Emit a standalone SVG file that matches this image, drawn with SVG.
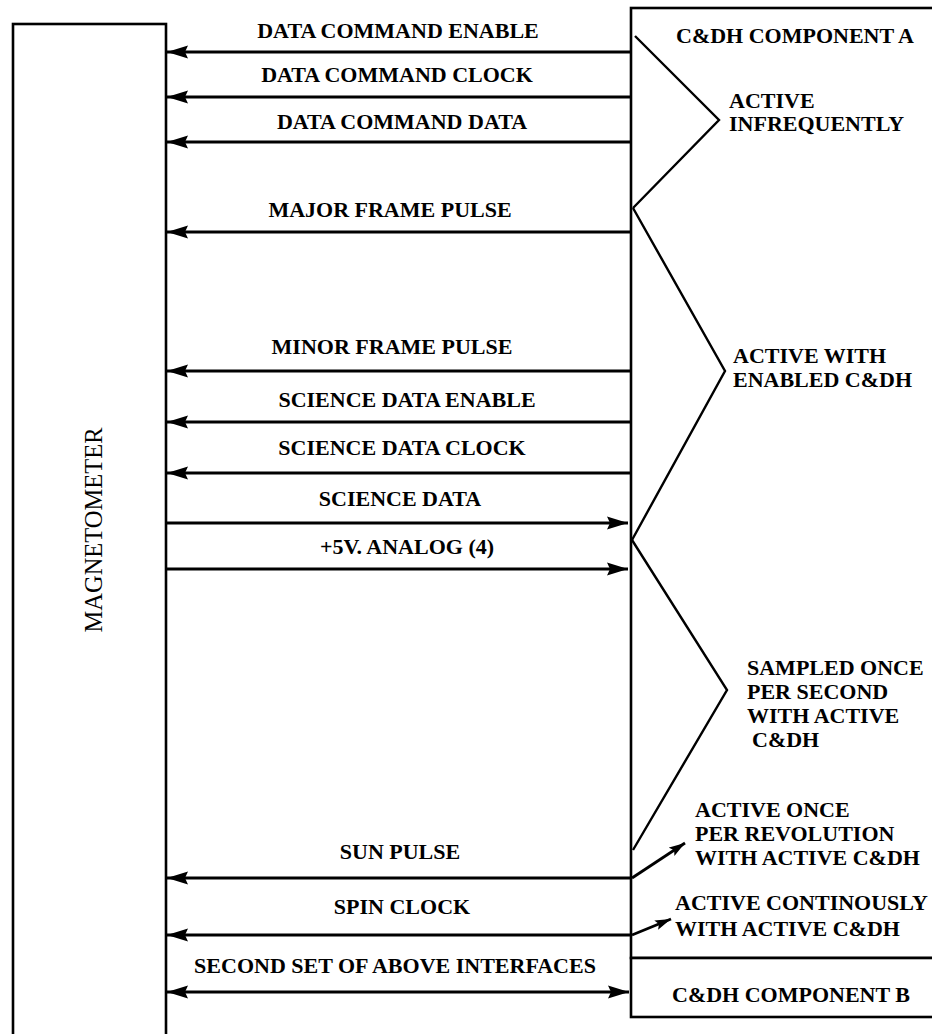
<svg xmlns="http://www.w3.org/2000/svg" width="932" height="1034" viewBox="0 0 932 1034">
<style>
.box{fill:#fff;stroke:#000;stroke-width:2.6}
.ln{fill:none;stroke:#000;stroke-width:2.8}
.br{fill:none;stroke:#000;stroke-width:2.4;stroke-linejoin:miter}
.t{font-family:"Liberation Serif","Times New Roman",serif;font-weight:bold;font-size:22px;fill:#000}
.c{text-anchor:middle}
.m{font-family:"Liberation Serif","Times New Roman",serif;font-size:24.5px;fill:#000;text-anchor:middle}
</style>
<defs>
<marker id="ah" markerUnits="userSpaceOnUse" markerWidth="23" markerHeight="15" refX="21" refY="6.5" orient="auto-start-reverse" viewBox="0 0 23 13">
<path d="M0,0 L21,6.5 L0,13 L3,6.5 z" fill="#000"/>
</marker>
<marker id="sh" markerUnits="userSpaceOnUse" markerWidth="18" markerHeight="12" refX="16" refY="5" orient="auto" viewBox="0 0 18 10">
<path d="M0,0 L16,5 L0,10 L3,5 z" fill="#000"/>
</marker>
</defs>
<rect width="932" height="1034" fill="#fff"/>

<g id="magnetometer">
<rect class="box" x="13" y="24" width="153" height="1030"/>
<text class="m" transform="translate(102,530) rotate(-90)">MAGNETOMETER</text>
</g>

<g id="cdh-a">
<rect class="box" x="631" y="8" width="320" height="950"/>
<text class="t" x="676" y="43">C&amp;DH COMPONENT A</text>
</g>

<g id="cdh-b">
<rect class="box" x="631" y="958" width="320" height="59"/>
<text class="t" x="672" y="1002">C&amp;DH COMPONENT B</text>
</g>

<g id="connectors">
<path class="ln" d="M631,52 H167" marker-end="url(#ah)"/>
<path class="ln" d="M631,97 H167" marker-end="url(#ah)"/>
<path class="ln" d="M631,142 H167" marker-end="url(#ah)"/>
<path class="ln" d="M631,232 H167" marker-end="url(#ah)"/>
<path class="ln" d="M631,371 H167" marker-end="url(#ah)"/>
<path class="ln" d="M631,422 H167" marker-end="url(#ah)"/>
<path class="ln" d="M631,473 H167" marker-end="url(#ah)"/>
<path class="ln" d="M166,523 H628" marker-end="url(#ah)"/>
<path class="ln" d="M166,569 H628" marker-end="url(#ah)"/>
<path class="ln" d="M632,878 H167" marker-end="url(#ah)"/>
<path class="ln" d="M632,935 H167" marker-end="url(#ah)"/>
<path class="ln" d="M167,992 H629" marker-start="url(#ah)" marker-end="url(#ah)"/>
<path class="ln" d="M632,878 L685,843" stroke-width="2.5" marker-end="url(#sh)"/>
<path class="ln" d="M632,935 L671,919" stroke-width="2.5" marker-end="url(#sh)"/>
</g>

<g id="labels">
<text class="t c" x="398" y="38">DATA COMMAND ENABLE</text>
<text class="t c" x="397" y="82">DATA COMMAND CLOCK</text>
<text class="t c" x="402" y="129">DATA COMMAND DATA</text>
<text class="t c" x="390" y="217">MAJOR FRAME PULSE</text>
<text class="t c" x="392" y="354">MINOR FRAME PULSE</text>
<text class="t c" x="407" y="407">SCIENCE DATA ENABLE</text>
<text class="t c" x="402" y="455">SCIENCE DATA CLOCK</text>
<text class="t c" x="400" y="506">SCIENCE DATA</text>
<text class="t c" x="407" y="554">+5V. ANALOG (4)</text>
<text class="t c" x="400" y="859">SUN PULSE</text>
<text class="t c" x="402" y="914">SPIN CLOCK</text>
<text class="t c" x="395" y="973">SECOND SET OF ABOVE INTERFACES</text>
</g>

<g id="bracket-infrequent">
<polyline class="br" points="635,36 719,120 633,208"/>
<text class="t" x="729" y="108">ACTIVE</text>
<text class="t" x="729" y="131">INFREQUENTLY</text>
</g>

<g id="bracket-enabled">
<polyline class="br" points="633,208 725,371 632,540"/>
<text class="t" x="733" y="363">ACTIVE WITH</text>
<text class="t" x="733" y="387">ENABLED C&amp;DH</text>
</g>

<g id="bracket-sampled">
<polyline class="br" points="632,540 727,690 633,850"/>
<text class="t" x="747" y="675">SAMPLED ONCE</text>
<text class="t" x="747" y="699">PER SECOND</text>
<text class="t" x="747" y="723">WITH ACTIVE</text>
<text class="t" x="752" y="747">C&amp;DH</text>
</g>

<g id="note-sun">
<text class="t" x="695" y="817">ACTIVE ONCE</text>
<text class="t" x="695" y="841">PER REVOLUTION</text>
<text class="t" x="695" y="865">WITH ACTIVE C&amp;DH</text>
</g>

<g id="note-spin">
<text class="t" x="675" y="910">ACTIVE CONTINOUSLY</text>
<text class="t" x="675" y="936">WITH ACTIVE C&amp;DH</text>
</g>
</svg>
